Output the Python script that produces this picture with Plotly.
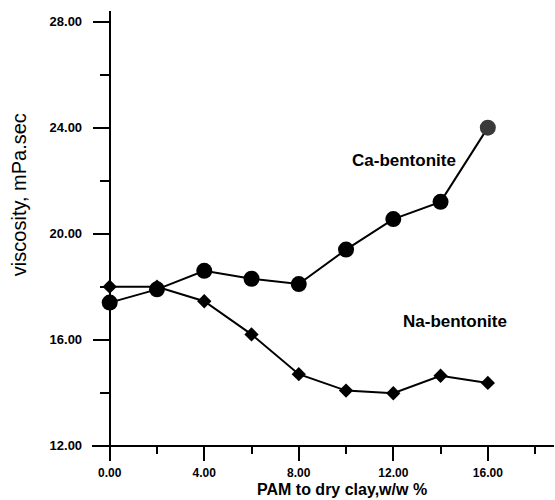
import plotly.graph_objects as go

pam = [0, 2, 4, 6, 8, 10, 12, 14, 16]
ca_visc = [17.4, 17.9, 18.6, 18.3, 18.1, 19.4, 20.55, 21.2, 24.0]
na_visc = [18.0, 18.0, 17.45, 16.2, 14.7, 14.08, 13.98, 14.64, 14.37]
ca_colors = ["black"] * 8 + ["#3a3a3a"]

x_tickvals = [0, 4, 8, 12, 16]
y_tickvals = [12, 16, 20, 24, 28]

XR = [-0.75, 18.8]
YR = [11.5, 28.4]

FONT = "Liberation Sans, Arial, sans-serif"

fig = go.Figure()
fig.add_trace(go.Scatter(
    x=pam, y=na_visc, mode="lines+markers",
    line=dict(color="black", width=2),
    marker=dict(symbol="diamond", size=11, color="black"),
    name="Na-bentonite", showlegend=False, cliponaxis=False))
fig.add_trace(go.Scatter(
    x=pam, y=ca_visc, mode="lines+markers",
    line=dict(color="black", width=2),
    marker=dict(symbol="circle", size=16, color=ca_colors),
    name="Ca-bentonite", showlegend=False, cliponaxis=False))

fig.add_annotation(x=12.45, y=22.75, text="Ca-bentonite", showarrow=False,
                   font=dict(family=FONT, size=17, color="black", weight="bold"))
fig.add_annotation(x=14.6, y=16.68, text="Na-bentonite", showarrow=False,
                   font=dict(family=FONT, size=17, color="black", weight="bold"))

fig.add_annotation(xref="paper", yref="paper", x=0.541, y=-0.0670,
                   xanchor="center", yanchor="middle",
                   text="PAM to dry clay,w/w %", showarrow=False,
                   font=dict(family=FONT, size=16, color="black", weight="bold"))
fig.add_annotation(xref="paper", yref="paper", x=-0.158, y=0.589,
                   xanchor="center", yanchor="middle",
                   text="viscosity, mPa.sec", showarrow=False, textangle=-90,
                   font=dict(family=FONT, size=20, color="black"))

xpos = (12 - YR[0]) / (YR[1] - YR[0])
ypos = (0 - XR[0]) / (XR[1] - XR[0])

fig.update_layout(
    width=555, height=500,
    margin=dict(l=92, r=1, t=11, b=41),
    plot_bgcolor="white", paper_bgcolor="white",
    xaxis=dict(range=XR, anchor="free", position=xpos,
               showgrid=False, zeroline=False,
               showline=True, linecolor="black", linewidth=2,
               tickvals=x_tickvals, tickformat=".2f",
               ticks="outside", ticklen=14, tickwidth=2, tickcolor="black",
               ticklabelstandoff=2,
               minor=dict(dtick=2, tick0=0, ticks="outside", ticklen=7,
                          tickwidth=2, tickcolor="black", showgrid=False),
               tickfont=dict(family=FONT, size=12, color="black", weight="bold")),
    yaxis=dict(range=YR, anchor="free", position=ypos,
               showgrid=False, zeroline=False,
               showline=True, linecolor="black", linewidth=2,
               tickvals=y_tickvals, tickformat=".2f",
               ticks="outside", ticklen=16, tickwidth=2, tickcolor="black",
               ticklabelstandoff=8,
               minor=dict(dtick=2, tick0=0, ticks="outside", ticklen=9,
                          tickwidth=2, tickcolor="black", showgrid=False),
               tickfont=dict(family=FONT, size=13, color="black", weight="bold")),
)

fig.write_html("out.html")
